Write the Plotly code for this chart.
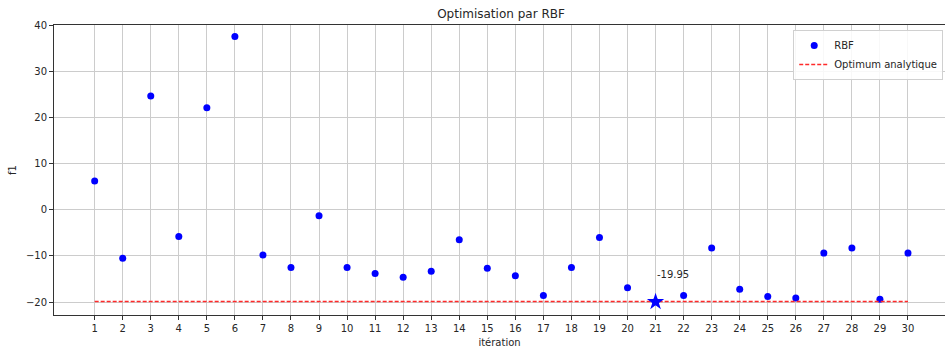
import plotly.graph_objects as go

# Iterations of the RBF optimisation and the objective value found at each one
iterations = list(range(1, 31))
f1_values = [6.2, -10.5, 24.6, -5.8, 22.1, 37.5, -9.8, -12.5, -1.3, -12.5,
             -13.8, -14.6, -13.3, -6.5, -12.7, -14.3, -18.6, -12.5, -6.0, -16.9,
             -19.95, -18.6, -8.3, -17.2, -18.8, -19.1, -9.4, -8.3, -19.4, -9.4]
optimum_analytique = -19.85
best_index = 20
best_label = "-19.95"

font_family = "DejaVu Sans, Liberation Sans, sans-serif"
text_color = "#262626"
grid_color = "#cccccc"

fig = go.Figure()

fig.add_trace(go.Scatter(
    x=iterations, y=f1_values, mode="markers", name="RBF",
    marker=dict(color="#0000ff", size=7),
))

fig.add_trace(go.Scatter(
    x=[iterations[0], iterations[-1]], y=[optimum_analytique, optimum_analytique],
    mode="lines", name="Optimum analytique",
    line=dict(color="#ff2a2a", width=1.5, dash="4px,2px"),
))

# Best point highlighted with a star
fig.add_trace(go.Scatter(
    x=[iterations[best_index]], y=[f1_values[best_index]], mode="markers",
    marker=dict(color="#0000ff", size=13, symbol="star"),
    showlegend=False,
))

fig.add_annotation(
    x=iterations[best_index], y=f1_values[best_index], text=best_label,
    showarrow=False, xanchor="left", yanchor="middle", yshift=27, xshift=-1,
    font=dict(family=font_family, size=10, color=text_color),
)

fig.update_layout(
    width=945, height=348,
    margin=dict(l=54, r=0, t=25, b=33),
    paper_bgcolor="white", plot_bgcolor="white",
    font=dict(family=font_family, size=10, color=text_color),
    title=dict(text="Optimisation par RBF", x=501 / 945,
               xanchor="center", y=1 - 14 / 348, yanchor="middle",
               font=dict(size=12, color=text_color)),
    legend=dict(
        x=0.998, y=0.983, xanchor="right", yanchor="top",
        bgcolor="rgba(255,255,255,0.85)", bordercolor="#d0d0d0", borderwidth=1,
        font=dict(size=10, color=text_color),
        tracegroupgap=0, itemwidth=30,
    ),
    showlegend=True,
)

fig.update_xaxes(
    range=[-0.45, 31.32], tickmode="array", tickvals=iterations,
    ticktext=[str(i) for i in iterations],
    showgrid=True, gridcolor=grid_color, gridwidth=1,
    showline=True, linecolor="#333333", linewidth=1, mirror=True,
    ticks="outside", ticklen=4, tickcolor="#333333",
    zeroline=False,
    title=dict(text="itération", font=dict(size=10, color=text_color), standoff=6),
)

fig.update_yaxes(
    range=[-22.8, 40], tickmode="array", tickvals=[-20, -10, 0, 10, 20, 30, 40],
    showgrid=True, gridcolor=grid_color, gridwidth=1,
    showline=True, linecolor="#333333", linewidth=1, mirror=False,
    ticks="outside", ticklen=4, tickcolor="#333333",
    zeroline=False,
    title=dict(text="f1", font=dict(size=10, color=text_color), standoff=7),
)

fig.write_html("out.html")
